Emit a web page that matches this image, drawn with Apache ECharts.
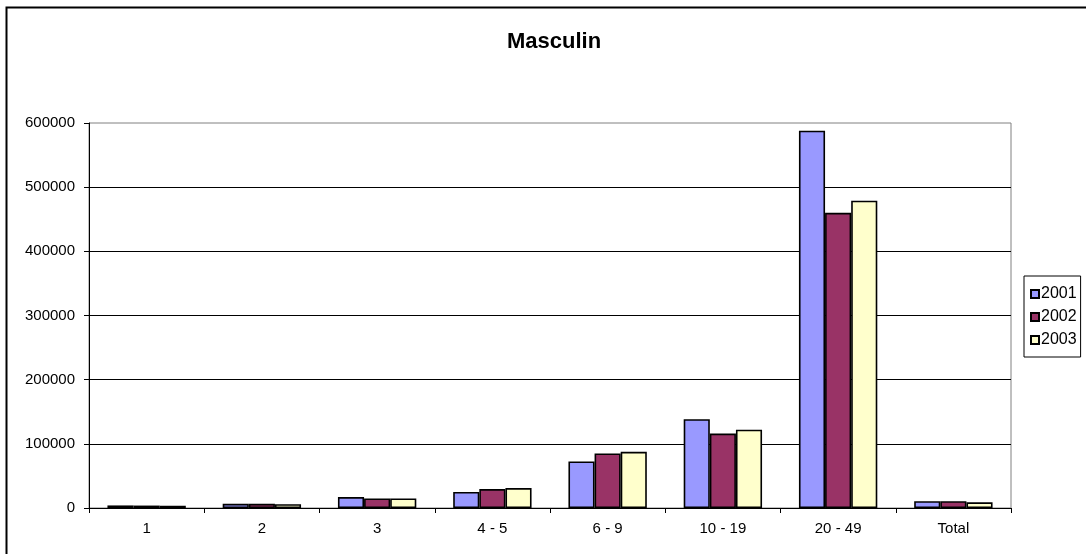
<!DOCTYPE html>
<html>
<head>
<meta charset="utf-8">
<script src="https://cdn.jsdelivr.net/npm/echarts@6/dist/echarts.min.js"></script>
<style>
html,body{margin:0;padding:0;background:#fff;}
#c{width:1086px;height:554px;}
</style>
</head>
<body>
<div id="c"></div>
<script>
const categories = ['1', '2', '3', '4 - 5', '6 - 9', '10 - 19', '20 - 49', 'Total'];
const s2001 = [4000, 6500, 17000, 25000, 72500, 138500, 588000, 10500];
const s2002 = [3800, 6500, 15000, 29500, 85000, 116000, 460000, 10500];
const s2003 = [3500, 6000, 15000, 31000, 87500, 122000, 479000, 8800];
const yTicks = [0, 100000, 200000, 300000, 400000, 500000, 600000];

const font = "'Liberation Sans', Arial, sans-serif";
const chart = echarts.init(document.getElementById('c'), null, {renderer: 'canvas'});
const mk = (name, data, color) => ({
  name, type: 'bar', data,
  barGap: '0%', barCategoryGap: '32%',
  itemStyle: {color, borderColor: '#000', borderWidth: 1.6},
  emphasis: {disabled: true}
});
chart.setOption({
  animation: false,
  backgroundColor: '#fff',
  title: {
    text: 'Masculin', left: 549, top: 26, textAlign: 'center',
    textStyle: {fontFamily: font, fontSize: 22, fontWeight: 'bold', color: '#000'}
  },
  graphic: [{
    type: 'rect', shape: {x: 6.5, y: 7.5, width: 2000, height: 2000},
    style: {fill: null, stroke: '#000', lineWidth: 2}, silent: true
  }],
  legend: {
    orient: 'vertical', left: 1024, top: 276,
    itemWidth: 8, itemHeight: 8, itemGap: 7,
    icon: 'rect',
    padding: [10, 4, 9, 6],
    borderColor: '#000', borderWidth: 1,
    textStyle: {fontFamily: font, fontSize: 16, color: '#000', padding: [0, 0, 0, -3]},
    data: ['2001', '2002', '2003']
  },
  grid: {
    left: 89, right: 75, top: 123, bottom: 46,
    show: true, borderColor: '#808080', borderWidth: 1, backgroundColor: '#fff'
  },
  xAxis: {
    type: 'category', data: categories,
    axisLine: {lineStyle: {color: '#000', width: 1}},
    axisTick: {show: true, interval: 0, length: 5, lineStyle: {color: '#000'}},
    axisLabel: {fontFamily: font, fontSize: 15, color: '#000', margin: 13, interval: 0},
    splitLine: {show: false}
  },
  yAxis: {
    type: 'value', min: yTicks[0], max: yTicks[yTicks.length - 1], interval: yTicks[1] - yTicks[0],
    axisLine: {show: true, lineStyle: {color: '#000', width: 1}},
    axisTick: {show: true, length: 5, lineStyle: {color: '#000'}},
    axisLabel: {fontFamily: font, fontSize: 15, color: '#000', margin: 14, formatter: v => String(v)},
    splitLine: {show: true, showMinLine: false, showMaxLine: false, lineStyle: {color: '#000', width: 1}}
  },
  series: [
    mk('2001', s2001, '#9999FF'),
    mk('2002', s2002, '#993366'),
    mk('2003', s2003, '#FFFFCC')
  ]
});
</script>
</body>
</html>
